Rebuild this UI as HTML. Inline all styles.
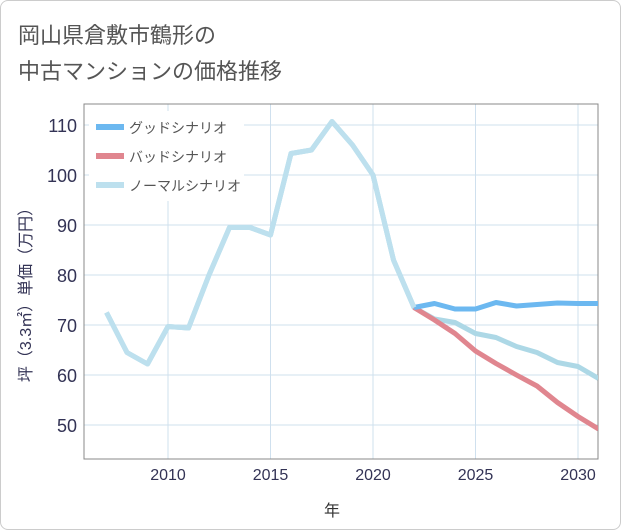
<!DOCTYPE html>
<html><head><meta charset="utf-8"><style>
body{margin:0;background:#fff;font-family:"Liberation Sans","Noto Sans CJK JP",sans-serif}
#wrap{position:relative;width:619px;height:528px;border:1px solid #ccc;border-radius:8px;overflow:hidden}
</style></head><body>
<div id="wrap">
<svg width="621" height="530" xmlns="http://www.w3.org/2000/svg">
<text x="17" y="42" font-size="22" fill="#555">岡山県倉敷市鶴形の</text>
<text x="17" y="78" font-size="22" fill="#555">中古マンションの価格推移</text>
<g id="grid"></g>
<rect x="83" y="103" width="514" height="355" fill="none" stroke="#888" stroke-width="1"/>
<g id="series"></g>
<g id="legend"></g>
<text x="331" y="515" font-size="16" fill="#333" text-anchor="middle">年</text>
<text transform="translate(30,290) rotate(-90)" font-size="16" fill="#335" text-anchor="middle">坪（3.3㎡）単価（万円）</text>
</svg></div>
<script>
const years=[2007,2008,2009,2010,2011,2012,2013,2014,2015,2016,2017,2018,2019,2020,2021,2022,2023,2024,2025,2026,2027,2028,2029,2030,2031];
const normal=[72.5,64.5,62.2,69.7,69.4,80,89.5,89.5,88,104.3,105,110.7,106,100,83,73.5,71.2,70.5,68.3,67.5,65.7,64.5,62.5,61.7,59.3];
const futureYears=[2022,2023,2024,2025,2026,2027,2028,2029,2030,2031];
const good=[73.5,74.3,73.2,73.2,74.5,73.8,74.1,74.4,74.3,74.3];
const bad=[73.5,71,68.3,64.8,62.3,60,57.8,54.5,51.7,49.2];
const yTicks=[50,60,70,80,90,100,110];
const xTicks=[2010,2015,2020,2025,2030];
const NS="http://www.w3.org/2000/svg";
const X=y=>167+(y-2010)*20.5;
const Y=v=>424-(v-50)*5;
function mk(t,a,p){const e=document.createElementNS(NS,t);for(const k in a)e.setAttribute(k,a[k]);p.appendChild(e);return e;}
const g=document.getElementById('grid');
yTicks.forEach(v=>{
 const l=mk('line',{x1:83,x2:597,y1:Y(v),y2:Y(v),stroke:'#cfe0ee','stroke-width':1},g);
 
 
 const t=mk('text',{x:76,y:Y(v)+7,'font-size':18,fill:'#335','text-anchor':'end'},g);t.textContent=v;
 
 
});
xTicks.forEach(v=>{
 const l=mk('line',{x1:X(v),x2:X(v),y1:103,y2:458,stroke:'#cfe0ee','stroke-width':1},g);
 
 
 const t=mk('text',{x:X(v),y:479,'font-size':16,fill:'#335','text-anchor':'middle'},g);t.textContent=v;
 
 
});
const s=document.getElementById('series');
function line(xs,vs,color,name){
 const p=mk('polyline',{points:xs.map((y,i)=>X(y)+','+Y(vs[i])).join(' '),fill:'none',stroke:color,'stroke-width':5,'stroke-linejoin':'round'},s);
 
 
}
const cp=mk('clipPath',{id:'cp'},s);mk('rect',{x:83,y:103,width:514,height:355},cp);
s.setAttribute('clip-path','url(#cp)');
line(years,normal,'#add8e6','normal-scenario-line');
line(futureYears,bad,'#e0868f','bad-scenario-line');
line(futureYears,good,'#6cb8f0','good-scenario-line');
line(years.slice(0,16),normal.slice(0,16),'#bde0ee','normal-scenario-history');
const lg=document.getElementById('legend');
const bg=mk('rect',{x:88,y:110,width:155,height:90,fill:'#fff'},lg);


[['グッドシナリオ','#6cb8f0','legend-good'],['バッドシナリオ','#e0868f','legend-bad'],['ノーマルシナリオ','#bde0ee','legend-normal']].forEach((d,i)=>{
 const y=126+i*29;
 const l=mk('line',{x1:95,x2:123,y1:y,y2:y,stroke:d[1],'stroke-width':6},lg);
 
 
 const t=mk('text',{x:128,y:y+6,'font-size':14,fill:'#555'},lg);t.textContent=d[0];
 
 
});
</script>
</body></html>
